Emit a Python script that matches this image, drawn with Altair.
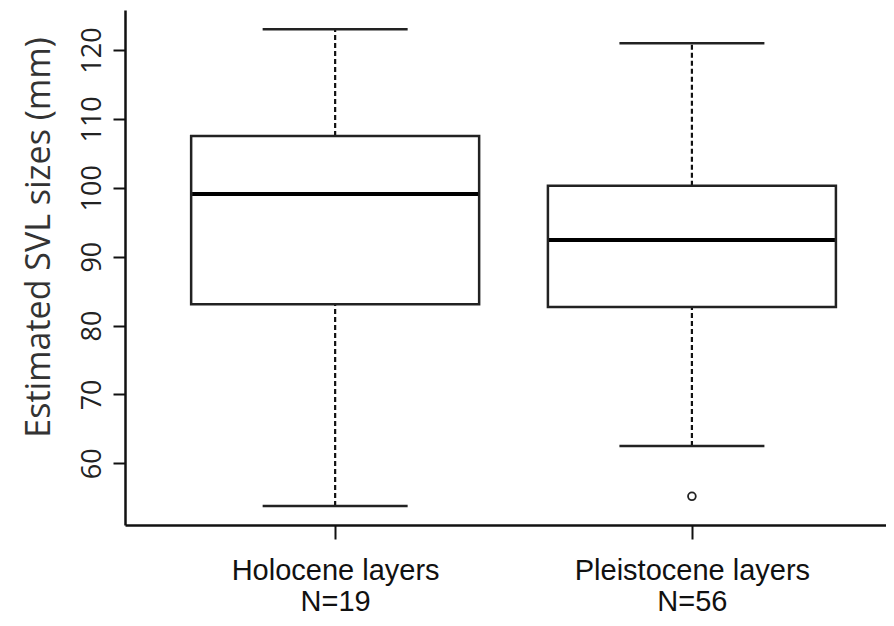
import altair as alt
import pandas as pd

# ---- data ----
groups = ["Holocene layers", "Pleistocene layers"]
counts = [19, 56]
lower_whisker = [53.8, 62.5]
q1 = [83.1, 82.7]
median = [99.1, 92.4]
q3 = [107.5, 100.3]
upper_whisker = [123.0, 121.0]
outlier_group = ["Pleistocene layers"]
outlier_value = [55.2]
y_ticks = [60, 70, 80, 90, 100, 110, 120]

pos = {g: i + 1 for i, g in enumerate(groups)}

stats = pd.DataFrame({
    "group": groups,
    "pos": [pos[g] for g in groups],
    "lower": lower_whisker,
    "q1": q1,
    "median": median,
    "q3": q3,
    "upper": upper_whisker,
})
outliers = pd.DataFrame({
    "group": outlier_group,
    "pos": [pos[g] for g in outlier_group],
    "value": outlier_value,
})

label_expr = " : ".join(
    f"datum.value == {pos[g]} ? ['{g}', 'N={n}']" for g, n in zip(groups, counts)
) + " : ''"

x_scale = alt.Scale(domain=[0.425, 2.530], nice=False, zero=False)
y_scale = alt.Scale(domain=[51.04, 125.81], nice=False, zero=False)

x_axis = alt.Axis(
    values=[pos[g] for g in groups],
    labelExpr=label_expr,
    title=None,
    grid=False,
    domainColor="#111111",
    domainWidth=2.5,
    tickColor="#111111",
    tickWidth=2,
    tickSize=14,
    labelFont="Liberation Sans",
    labelFontSize=29,
    labelColor="#111111",
    labelLineHeight=31,
    labelBaseline="top",
    labelPadding=17,
    labelOverlap=False,
    labelFlush=False,
    labelLimit=0,
)
y_axis = alt.Axis(
    values=y_ticks,
    title="Estimated SVL sizes (mm)",
    grid=False,
    domainColor="#111111",
    domainWidth=2.5,
    tickColor="#111111",
    tickWidth=2,
    tickSize=12,
    labelFont="Open Sans",
    labelFontSize=27,
    labelColor="#222222",
    labelAngle=270,
    labelAlign="center",
    labelBaseline="alphabetic",
    labelPadding=13,
    labelOverlap=False,
    labelFlush=False,
    labelLimit=0,
    titleFont="Open Sans",
    titleFontSize=34,
    titleFontWeight="normal",
    titleColor="#333333",
    titleAngle=270,
    titleAlign="center",
    titleBaseline="alphabetic",
    titleX=-76,
    titleY=227,
    titleLimit=0,
)

base = alt.Chart(stats)

whisk_hi = base.mark_rule(color="#111111", strokeWidth=2.2, strokeDash=[5, 3]).encode(
    x=alt.X("pos:Q", scale=x_scale, axis=x_axis),
    y=alt.Y("q3:Q", scale=y_scale, axis=y_axis),
    y2="upper:Q",
)
whisk_lo = base.mark_rule(color="#111111", strokeWidth=2.2, strokeDash=[5, 3]).encode(
    x=alt.X("pos:Q", scale=x_scale),
    y=alt.Y("lower:Q", scale=y_scale),
    y2="q1:Q",
)
cap_hi = base.mark_tick(orient="horizontal", size=145, thickness=2.5, color="#222222", opacity=1).encode(
    x=alt.X("pos:Q", scale=x_scale),
    y=alt.Y("upper:Q", scale=y_scale),
)
cap_lo = base.mark_tick(orient="horizontal", size=145, thickness=2.5, color="#222222", opacity=1).encode(
    x=alt.X("pos:Q", scale=x_scale),
    y=alt.Y("lower:Q", scale=y_scale),
)
box = base.mark_bar(size=288, orient="vertical", fill="white", stroke="#222222", strokeWidth=2.5).encode(
    x=alt.X("pos:Q", scale=x_scale),
    y=alt.Y("q1:Q", scale=y_scale),
    y2="q3:Q",
)
med = base.mark_tick(orient="horizontal", size=286, thickness=4, color="#000000", opacity=1).encode(
    x=alt.X("pos:Q", scale=x_scale),
    y=alt.Y("median:Q", scale=y_scale),
)
pts = alt.Chart(outliers).mark_point(shape="circle", filled=False, size=60, strokeWidth=1.8, color="#222222", opacity=1).encode(
    x=alt.X("pos:Q", scale=x_scale),
    y=alt.Y("value:Q", scale=y_scale),
)

chart = alt.layer(whisk_hi, whisk_lo, cap_hi, cap_lo, box, med, pts).properties(
    width=761,
    height=515,
    autosize=alt.AutoSizeParams(type="none"),
    padding={"left": 117, "top": 2, "right": 0, "bottom": 90},
    background="white",
).configure_view(stroke=None)

chart.save("out.html", embed_options={"renderer": "svg", "actions": False})
